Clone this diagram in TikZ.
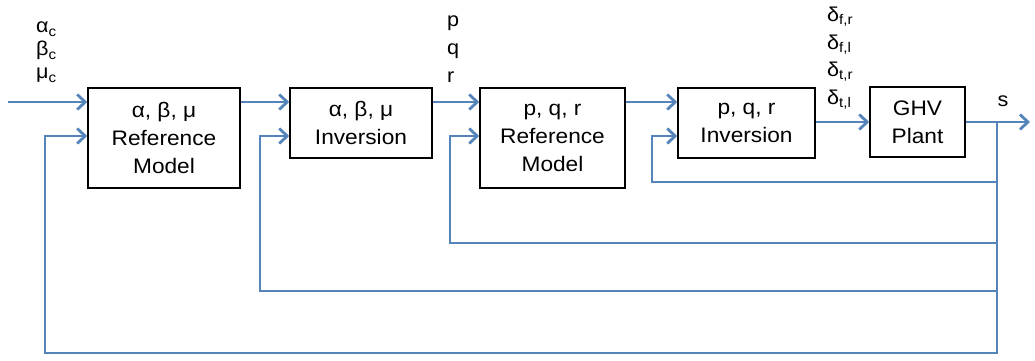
\documentclass[tikz,border=0pt]{standalone}
\usepackage{fontspec}
\setmainfont[FakeStretch=1.08]{Liberation Sans}
\usetikzlibrary{arrows.meta,positioning}
\definecolor{linkblue}{HTML}{5584BB}
\tikzset{
  block/.style={draw=black, line width=1.5pt, fill=white, align=center, inner sep=0pt,
    font=\fontsize{21}{28}\selectfont},
  sig/.style={draw=linkblue, line width=2.8pt, -{Straight Barb[length=8pt,width=15pt]}},
  lbl/.style={inner sep=0pt, align=left, font=\fontsize{20}{23}\selectfont}
}

\begin{document}
\begin{tikzpicture}[x=1pt,y=-1pt]
  %%%%% START %%%%%
  \useasboundingbox (0,0) rectangle (1035,360);

  % blocks
  \node[block, minimum width=152pt, minimum height=100pt] (refA) at (164,138) {α, β, μ\\Reference\\Model};
  \node[block, minimum width=142pt, minimum height=70pt] (invA) at (361,123) {α, β, μ\\Inversion};
  \node[block, minimum width=145pt, minimum height=100pt] (refP) at (552.5,138) {p, q, r\\Reference\\Model};
  \node[block, minimum width=137pt, minimum height=70pt] (invP) at (746.5,123) {p, q, r\\Inversion};
  \node[block, minimum width=95pt, minimum height=70pt] (ghv) at (917.5,122) {GHV\\Plant};

  \coordinate (cmd) at (8,102);
  \coordinate (tap) at (997,122);
  \coordinate (out) at (1030,122);

  % labels
  \node[lbl, anchor=north west] (cmdlbl) at (36,22) {α\textsubscript{c}\\β\textsubscript{c}\\μ\textsubscript{c}};
  \node[lbl, anchor=north west, font=\fontsize{20}{28}\selectfont] (pqrlbl) at (447,16) {p\\q\\r};
  \node[lbl, anchor=north west, font=\fontsize{20}{27.5}\selectfont] (dellbl) at (827,7)
    {δ\textsubscript{f,r}\\δ\textsubscript{f,l}\\δ\textsubscript{t,r}\\δ\textsubscript{t,l}};
  \node[lbl] (slbl) at (1003,101) {s};

  % forward path
  \draw[sig] (cmd) -- (cmd -| refA.west);
  \draw[sig] (refA.east |- cmd) -- (invA.west |- cmd);
  \draw[sig] (invA.east |- cmd) -- (refP.west |- cmd);
  \draw[sig] (refP.east |- cmd) -- (invP.west |- cmd);
  \draw[sig] (ghv -| invP.east) -- (ghv.west);
  \draw[sig] (ghv.east) -- (out);

  % feedback loops
  \foreach \blk/\xx/\yy in {invP/652/182, refP/450/243, invA/260/291, refA/45/353}
    \draw[sig] (tap) -- (tap |- 0,\yy) -- (\xx,\yy) |- (\blk.west |- 0,136);
  %%%%% END %%%%%
\end{tikzpicture}
\end{document}
